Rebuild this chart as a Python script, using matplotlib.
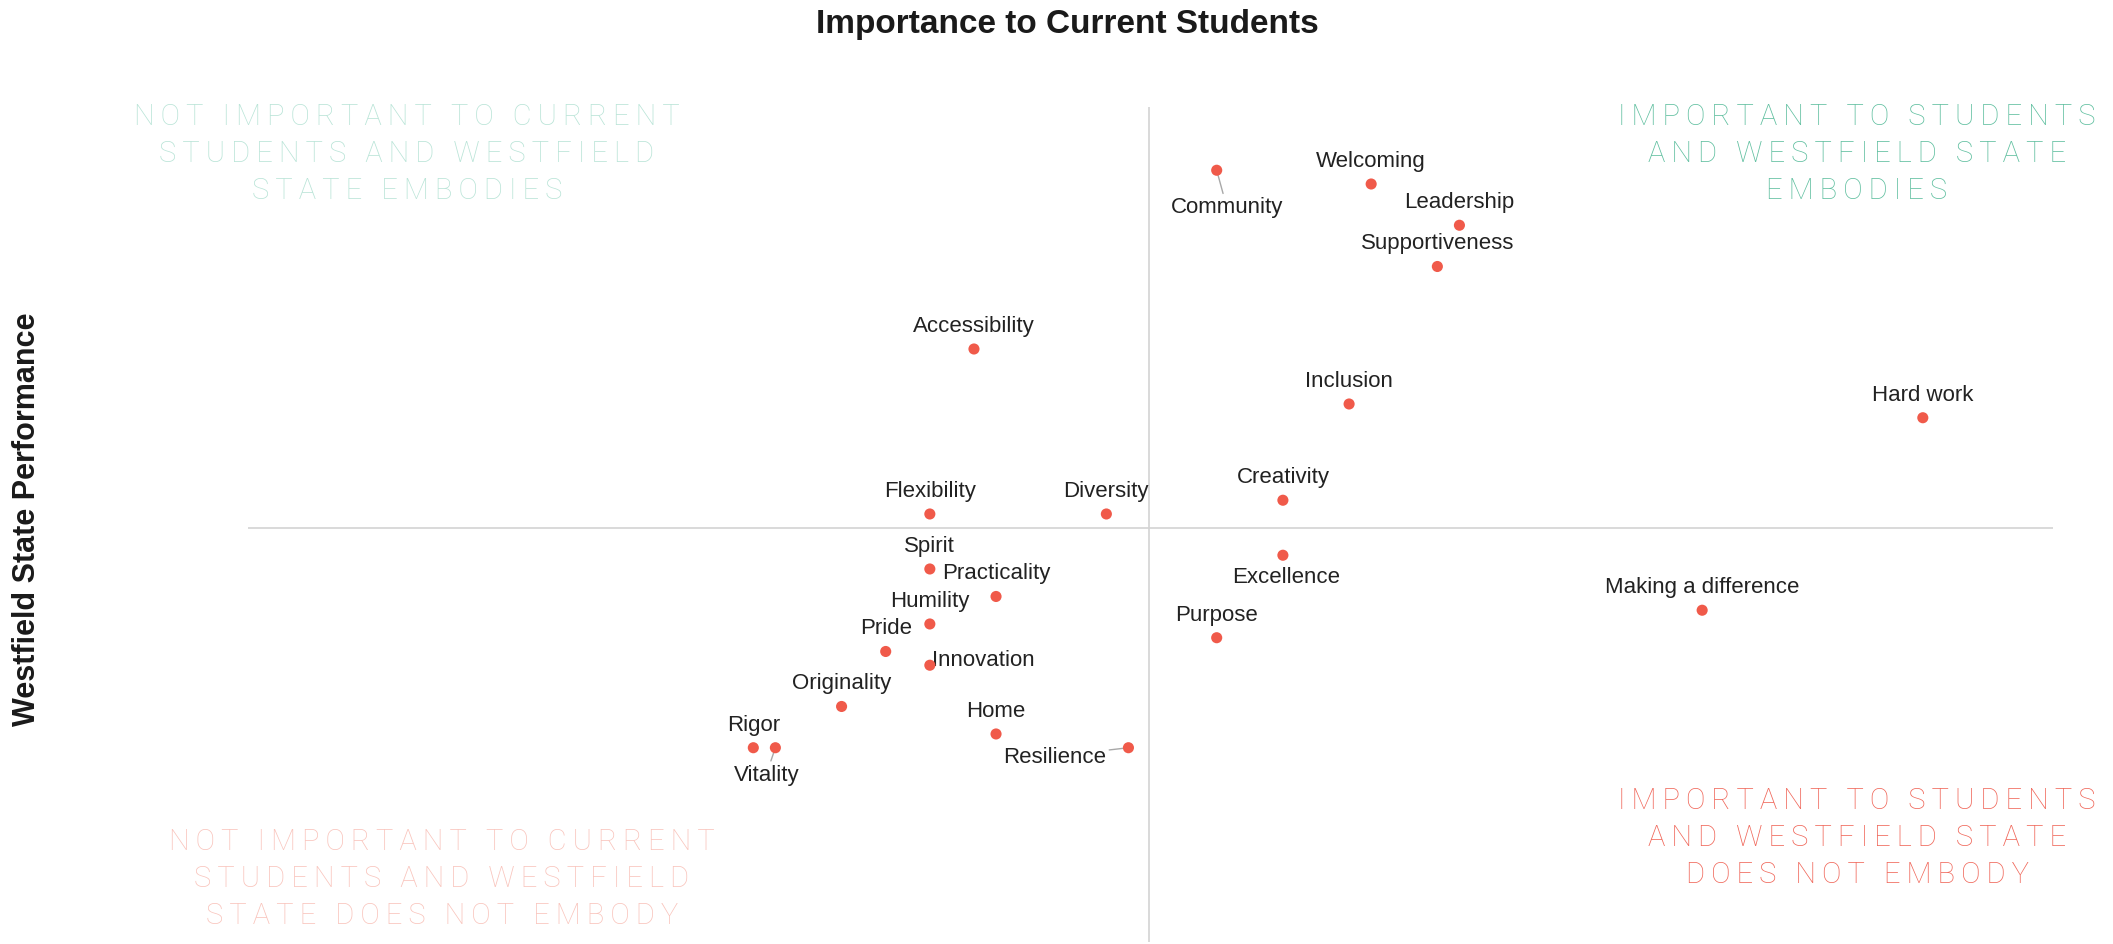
import numpy as np
import matplotlib
matplotlib.use('Agg')
import matplotlib.pyplot as plt

# values plotted: importance to current students (x) vs Westfield State performance (y)
values = ['Community', 'Welcoming', 'Leadership', 'Supportiveness', 'Accessibility',
          'Inclusion', 'Hard work', 'Flexibility', 'Diversity', 'Creativity', 'Spirit',
          'Practicality', 'Excellence', 'Humility', 'Making a difference', 'Pride',
          'Purpose', 'Innovation', 'Originality', 'Home', 'Rigor', 'Vitality', 'Resilience']
importance = [21, 28, 32, 31, 10, 27, 53, 8, 16, 24, 8, 11, 24, 8, 43, 6, 21, 8, 4, 11, 0, 1, 17]
performance = [42, 41, 38, 35, 29, 25, 24, 17, 17, 18, 13, 11, 14, 9, 10, 7, 8, 6, 3, 1, 0, 0, 0]

tl_lines = ['NOT IMPORTANT TO CURRENT', 'STUDENTS AND WESTFIELD', 'STATE EMBODIES']
tr_lines = ['IMPORTANT TO STUDENTS', 'AND WESTFIELD STATE', 'EMBODIES']
bl_lines = ['NOT IMPORTANT TO CURRENT', 'STUDENTS AND WESTFIELD', 'STATE DOES NOT EMBODY']
br_lines = ['IMPORTANT TO STUDENTS', 'AND WESTFIELD STATE', 'DOES NOT EMBODY']

plt.rcParams['font.family'] = ['Liberation Sans', 'DejaVu Sans']

W, H = 2113, 945
fig = plt.figure(figsize=(W / 100, H / 100), dpi=100)
ax = fig.add_axes([248 / W, 2 / H, (2053 - 248) / W, (943 - 108) / H])
ax.set_xlim(-22.9, 58.9)
ax.set_ylim(-14.13, 46.6)
ax.axis('off')

# quadrant split at the means
ax.axvline(np.mean(importance), color='#d3d3d3', lw=1.2, zorder=1)
ax.axhline(np.mean(performance), color='#d3d3d3', lw=1.2, zorder=1)

ax.scatter(importance, performance, s=64, color='#f05a4a', edgecolors='none', zorder=4)

# label placement (pixels), default is centred above the dot
offsets = {'Community': (10, -42, 'center'), 'Vitality': (-9, -32, 'center'),
           'Resilience': (-22, -14, 'right'), 'Excellence': (3, -27, 'center'),
           'Innovation': (2, 0, 'left')}
leaders = ['Community', 'Vitality', 'Resilience']
for name, xv, yv in zip(values, importance, performance):
    dx, dy, ha = offsets.get(name, (0, 18, 'center'))
    arrow = None
    if name in leaders:
        arrow = dict(arrowstyle='-', color='#a8a8a8', lw=1.0, shrinkA=0, shrinkB=0)
    ax.annotate(name, (xv, yv), xytext=(dx, dy), textcoords='offset pixels',
                ha=ha, va='baseline', fontsize=16, color='#222222',
                arrowprops=arrow, zorder=3)

fig.text(1067 / W, 1 - 32.5 / H, 'Importance to Current Students', ha='center',
         va='baseline', fontsize=24, fontweight='bold', color='#1a1a1a')
fig.text(27 / W, 1 - 519 / H, 'Westfield State Performance', rotation=90, ha='center',
         va='center', fontsize=22, fontweight='bold', color='#1a1a1a')


def track(lines):
    # wide letter spacing like the original
    return '\n'.join('\u2009'.join(l) for l in lines)


quad = [(tl_lines, 407, 154, '#b9e4d7'), (tr_lines, 1857, 154, '#5fbf9f'),
        (bl_lines, 442, 879, '#f9c4bc'), (br_lines, 1857, 838, '#f0675a')]
for lines, qx, qy, col in quad:
    fig.text(qx / W, 1 - qy / H, track(lines), ha='center', va='center',
             multialignment='center', fontsize=21, color=col,
             family=['Roboto', 'DejaVu Sans'], fontweight='light', linespacing=1.42)

fig.savefig('out.png', dpi=100)
